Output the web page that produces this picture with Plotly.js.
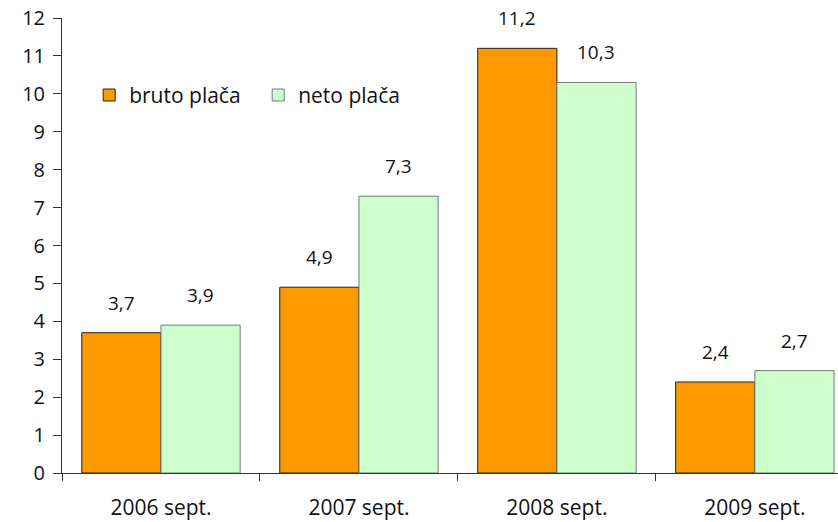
<!DOCTYPE html>
<html>
<head>
<meta charset="utf-8">
<script src="https://cdn.plot.ly/plotly-3.0.1.min.js"></script>
<style>html,body{margin:0;padding:0;background:#fff;}#chart{width:838px;height:522px;}</style>
</head>
<body>
<div id="chart"></div>
<script>
var categories = ["2006 sept.", "2007 sept.", "2008 sept.", "2009 sept."];
var bruto = [3.7, 4.9, 11.2, 2.4];
var neto = [3.9, 7.3, 10.3, 2.7];
var seriesNames = ["bruto plača", "neto plača"];
var yTicks = [0,1,2,3,4,5,6,7,8,9,10,11,12];

var font = "'Open Sans', Lato, sans-serif";
var traces = [
  {type:"bar", name:seriesNames[0], x:categories, y:bruto,
   marker:{color:"#FF9900", line:{color:"#222", width:1}}},
  {type:"bar", name:seriesNames[1], x:categories, y:neto,
   marker:{color:"#CCFFCC", line:{color:"#777", width:1}}}
];
var ann = [];
function fmt(v){ return v.toFixed(1).replace(".", ","); }
categories.forEach(function(c,i){
  ann.push({x:c, y:bruto[i], xref:"x", yref:"y", text:fmt(bruto[i]), showarrow:false,
    xshift:-39.5, yshift:15, yanchor:"bottom", font:{family:font, size:19, color:"#111"}});
  ann.push({x:c, y:neto[i], xref:"x", yref:"y", text:fmt(neto[i]), showarrow:false,
    xshift:39.5, yshift:15, yanchor:"bottom", font:{family:font, size:19, color:"#111"}});
});
var layout = {
  width:838, height:522,
  margin:{l:62, r:0, t:18, b:49},
  paper_bgcolor:"#fff", plot_bgcolor:"#fff",
  barmode:"group", bargap:0.2, bargroupgap:0,
  font:{family:font, size:19, color:"#111"},
  showlegend:true,
  legend:{orientation:"h", x:0.035, y:0.83, xanchor:"left", yanchor:"middle",
    font:{family:font, size:21, color:"#111"}, bgcolor:"rgba(0,0,0,0)", itemwidth:30,
    entrywidth:124, entrywidthmode:"pixels", traceorder:"normal"},
  xaxis:{type:"category", range:[-0.5, 3.42], showgrid:false, zeroline:false,
    showline:true, linecolor:"#333", linewidth:1,
    ticks:"outside", ticklen:7, tickcolor:"#333", tickson:"boundaries", ticklabelstandoff:16,
    tickfont:{family:font, size:21, color:"#111"}, automargin:false},
  yaxis:{range:[0,12], tickvals:yTicks, showgrid:false, zeroline:false,
    showline:true, linecolor:"#333", linewidth:1,
    ticks:"outside", ticklen:8, tickcolor:"#333", ticklabelstandoff:4,
    tickfont:{family:font, size:20, color:"#111"}, automargin:false},
  annotations:ann
};
Plotly.newPlot("chart", traces, layout, {staticPlot:true});
</script>
</body>
</html>
